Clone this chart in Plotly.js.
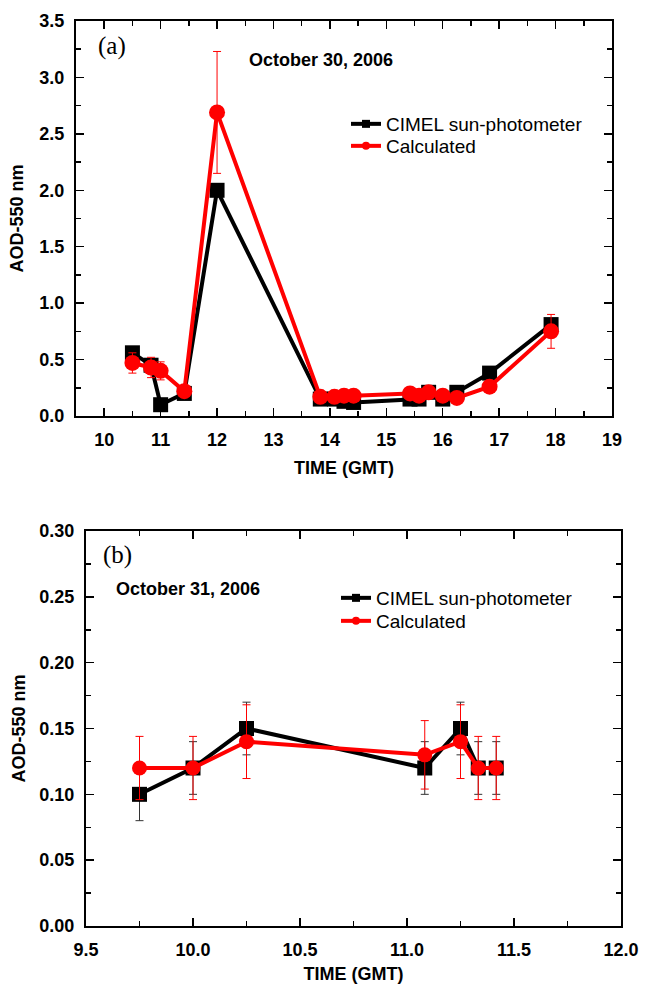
<!DOCTYPE html>
<html>
<head>
<meta charset="utf-8">
<script src="https://cdn.plot.ly/plotly-3.0.1.min.js"></script>
<style>html,body{margin:0;padding:0;background:#fff;}#chart{width:650px;height:986px;}</style>
</head>
<body>
<div id="chart"></div>
<script>
// ---- Panel (a): October 30, 2006 ----
const timeA = [10.5, 10.83, 11.0, 11.42, 12.0, 13.83, 14.08, 14.25, 14.42, 15.42, 15.58, 15.75, 16.0, 16.25, 16.83, 17.92];
const cimelA = [0.56, 0.45, 0.10, 0.20, 2.00, 0.15, 0.15, 0.13, 0.12, 0.15, 0.15, 0.21, 0.15, 0.21, 0.38, 0.81];
const cimelAErr = [0.02, 0.02, 0.02, 0.02, 0.02, 0.02, 0.02, 0.02, 0.02, 0.02, 0.02, 0.02, 0.02, 0.02, 0.02, 0.02];
const calcA = [0.47, 0.43, 0.40, 0.22, 2.69, 0.17, 0.17, 0.18, 0.18, 0.20, 0.18, 0.21, 0.18, 0.16, 0.26, 0.75];
const calcAErr = [0.09, 0.09, 0.08, 0.04, 0.54, 0.03, 0.03, 0.04, 0.04, 0.04, 0.04, 0.04, 0.04, 0.03, 0.05, 0.15];

// ---- Panel (b): October 31, 2006 ----
const timeB = [9.75, 10.0, 10.25, 11.083, 11.25, 11.333, 11.417];
const cimelB = [0.10, 0.12, 0.15, 0.12, 0.15, 0.12, 0.12];
const cimelBErr = [0.02, 0.02, 0.02, 0.02, 0.02, 0.02, 0.02];
const calcB = [0.12, 0.12, 0.14, 0.13, 0.14, 0.12, 0.12];
const calcBErr = [0.024, 0.024, 0.028, 0.026, 0.028, 0.024, 0.024];

const seriesNames = ["CIMEL sun-photometer", "Calculated"];
const panelLabels = ["(a)", "(b)"];
const dateLabels = ["October 30, 2006", "October 31, 2006"];
const xTitle = "TIME (GMT)";
const yTitle = "AOD-550 nm";

const FONT = "Liberation Sans, Arial, sans-serif";
const SERIF = "Liberation Serif, Times New Roman, serif";
const BLACK = "#000000", RED = "#ff0000";

function dataTrace(x, y, err, color, sym, size, xa, ya, errColor) {
  return {
    x: x, y: y, xaxis: xa, yaxis: ya, type: "scatter", mode: "lines+markers",
    showlegend: false,
    line: {color: color, width: 4},
    marker: {color: color, symbol: sym, size: size},
    error_y: {type: "data", array: err, visible: true, color: errColor, thickness: 1, width: 4}
  };
}
function legendTrace(name, color, sym, xa, ya, leg) {
  return {
    x: [null], y: [null], xaxis: xa, yaxis: ya, type: "scatter", mode: "lines+markers",
    name: name, legend: leg, showlegend: true,
    line: {color: color, width: 4},
    marker: {color: color, symbol: sym, size: 8}
  };
}

const traces = [
  dataTrace(timeA, cimelA, cimelAErr, BLACK, "square", 15, "x", "y", "#222"),
  dataTrace(timeA, calcA, calcAErr, RED, "circle", 16, "x", "y", RED),
  dataTrace(timeB, cimelB, cimelBErr, BLACK, "square", 15, "x2", "y2", "#333"),
  dataTrace(timeB, calcB, calcBErr, RED, "circle", 15, "x2", "y2", RED),
  legendTrace(seriesNames[0], BLACK, "square", "x", "y", "legend"),
  legendTrace(seriesNames[1], RED, "circle", "x", "y", "legend2"),
  legendTrace(seriesNames[0], BLACK, "square", "x2", "y2", "legend3"),
  legendTrace(seriesNames[1], RED, "circle", "x2", "y2", "legend4")
];

const tickFont = {family: FONT, size: 18, color: "#000", weight: "bold"};
const titleFont = {family: FONT, size: 18, color: "#000", weight: "bold"};

function axis(domain, range, dtick, minorDtick, fmt, title, anchor, standoff) {
  return {
    domain: domain, range: range, anchor: anchor, dtick: dtick, tick0: 0,
    tickformat: fmt, ticks: "inside", ticklen: 8, tickwidth: 1.5, tickcolor: "#000",
    minor: {ticks: "inside", ticklen: 5, tickwidth: 1.5, tickcolor: "#000", dtick: minorDtick},
    showline: true, linewidth: 2, linecolor: "#000", mirror: "allticks",
    showgrid: false, zeroline: false, tickfont: tickFont, ticklabelstandoff: 6,
    title: {text: title, font: titleFont, standoff: standoff}
  };
}

const H = 986, W = 650;
function leg(xpx, ypx) {
  return {x: xpx / W, y: 1 - ypx / H, xanchor: "left", yanchor: "middle",
    bgcolor: "rgba(0,0,0,0)", font: {family: FONT, size: 19, color: "#000"}, itemwidth: 30};
}
const layout = {
  width: W, height: H,
  margin: {l: 0, r: 0, t: 0, b: 0},
  paper_bgcolor: "#fff", plot_bgcolor: "#fff",
  showlegend: true,
  xaxis: axis([76 / W, 612 / W], [9.5, 19], 1, 0.5, "d", xTitle, "y", 13),
  yaxis: axis([1 - 416 / H, 1 - 21 / H], [0, 3.5], 0.5, 0.25, ".1f", yTitle, "x", 11),
  xaxis2: axis([86 / W, 621 / W], [9.5, 12.0], 0.5, 0.25, ".1f", xTitle, "y2", 9),
  yaxis2: axis([1 - 926 / H, 1 - 531 / H], [0, 0.30], 0.05, 0.025, ".2f", yTitle, "x2", 9),
  legend: leg(346, 124),
  legend2: leg(346, 146),
  legend3: leg(336, 598),
  legend4: leg(336, 621),
  annotations: [
    {text: panelLabels[0], xref: "paper", yref: "paper", x: 96 / W, y: 1 - 46 / H, xanchor: "left", yanchor: "middle",
      showarrow: false, font: {family: SERIF, size: 25, color: "#000"}},
    {text: dateLabels[0], xref: "paper", yref: "paper", x: 247 / W, y: 1 - 60 / H, xanchor: "left", yanchor: "middle",
      showarrow: false, font: {family: FONT, size: 18, color: "#000", weight: "bold"}},
    {text: panelLabels[1], xref: "paper", yref: "paper", x: 101 / W, y: 1 - 555 / H, xanchor: "left", yanchor: "middle",
      showarrow: false, font: {family: SERIF, size: 25, color: "#000"}},
    {text: dateLabels[1], xref: "paper", yref: "paper", x: 114 / W, y: 1 - 589 / H, xanchor: "left", yanchor: "middle",
      showarrow: false, font: {family: FONT, size: 18, color: "#000", weight: "bold"}}
  ]
};

Plotly.newPlot("chart", traces, layout, {displayModeBar: false, staticPlot: true});
</script>
</body>
</html>
